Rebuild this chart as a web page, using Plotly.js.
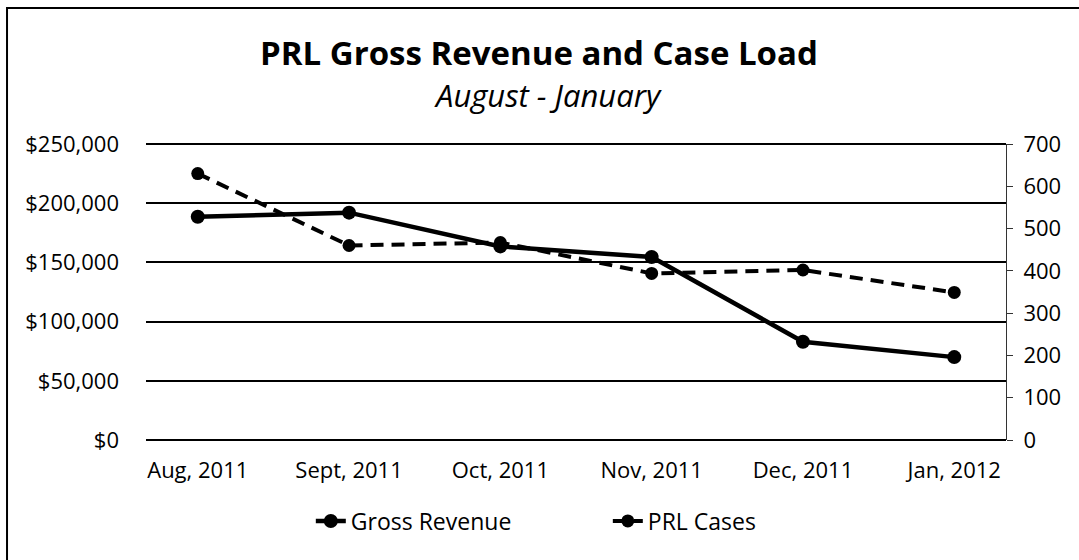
<!DOCTYPE html>
<html>
<head>
<meta charset="utf-8">
<script src="https://cdn.plot.ly/plotly-3.0.1.min.js"></script>
<style>
  html, body { margin: 0; padding: 0; background: #ffffff; }
  #chart { width: 1079px; height: 560px; }
</style>
</head>
<body>
<div id="chart"></div>
<script>
// ---- Data ----
const months = ["Aug, 2011", "Sept, 2011", "Oct, 2011", "Nov, 2011", "Dec, 2011", "Jan, 2012"];
const grossRevenue = [188500, 192000, 163500, 154500, 83000, 70000];
const prlCases = [630, 460, 467, 394, 402, 349];

const titleText = "PRL Gross Revenue and Case Load";
const subtitleText = "August - January";
const revenueName = "Gross Revenue";
const casesName = "PRL Cases";

const FONT = "'Open Sans', Lato, sans-serif";

const traces = [
  {
    x: months, y: grossRevenue, name: revenueName, type: "scatter", mode: "lines+markers",
    yaxis: "y",
    line: { color: "#000000", width: 4.5 },
    marker: { color: "#000000", size: 14, symbol: "circle" }
  },
  {
    x: months, y: prlCases, name: casesName, type: "scatter", mode: "lines+markers",
    yaxis: "y2",
    line: { color: "#000000", width: 4, dash: "13px,8px" },
    marker: { color: "#000000", size: 13, symbol: "circle" }
  }
];

const layout = {
  width: 1079, height: 560,
  margin: { l: 146, r: 73, t: 144, b: 120, pad: 0 },
  paper_bgcolor: "#ffffff", plot_bgcolor: "#ffffff",
  font: { family: FONT, size: 22, color: "#000000" },
  showlegend: true,
  title: {
    text: "<b>" + titleText + "</b>",
    font: { family: FONT, size: 33, color: "#000000" },
    xref: "container", x: 0.4995, xanchor: "center",
    yref: "container", y: 0.905, yanchor: "middle"
  },
  xaxis: {
    type: "category",
    showgrid: false, zeroline: false, showline: false,
    ticks: "", ticklabelstandoff: 15,
    tickfont: { family: FONT, size: 22, color: "#000000" },
    fixedrange: true
  },
  yaxis: {
    range: [0, 250000], dtick: 50000, tick0: 0,
    tickprefix: "$", tickformat: ",.0f",
    showgrid: true, gridcolor: "#000000", gridwidth: 2,
    zeroline: true, zerolinecolor: "#000000", zerolinewidth: 2.5,
    showline: false, ticks: "", ticklabelstandoff: 26,
    tickfont: { family: FONT, size: 22, color: "#000000" },
    fixedrange: true
  },
  yaxis2: {
    overlaying: "y", side: "right",
    range: [0, 700], dtick: 100, tick0: 0,
    showgrid: false, zeroline: false,
    showline: true, linecolor: "#333333", linewidth: 1,
    ticks: "outside", ticklen: 6, tickcolor: "#333333", tickwidth: 1,
    ticklabelstandoff: 6,
    tickfont: { family: FONT, size: 22, color: "#000000" },
    fixedrange: true
  },
  legend: {
    orientation: "h",
    x: 0.537, xanchor: "center",
    y: -0.2736, yanchor: "middle",
    font: { family: FONT, size: 23, color: "#000000" },
    bgcolor: "rgba(0,0,0,0)",
    entrywidth: 252
  },
  annotations: [
    {
      text: "<i>" + subtitleText + "</i>",
      xref: "paper", yref: "paper",
      x: 0.4674, y: 1.1655, xanchor: "center", yanchor: "middle",
      showarrow: false,
      font: { family: FONT, size: 31, color: "#000000" }
    }
  ],
  shapes: [
    {
      // top gridline of the plot area (at the $250,000 tick)
      type: "line", xref: "paper", yref: "paper",
      x0: 0, x1: 1, y0: 1, y1: 1,
      line: { color: "#000000", width: 2 }, layer: "below"
    },
    {
      type: "rect", xref: "paper", yref: "paper",
      x0: -0.1616, x1: 1.3, y0: -0.6, y1: 1.4595,
      line: { color: "#000000", width: 2 }, fillcolor: "rgba(0,0,0,0)",
      layer: "below"
    }
  ]
};

Plotly.newPlot("chart", traces, layout, { displayModeBar: false, staticPlot: true });
</script>
</body>
</html>
